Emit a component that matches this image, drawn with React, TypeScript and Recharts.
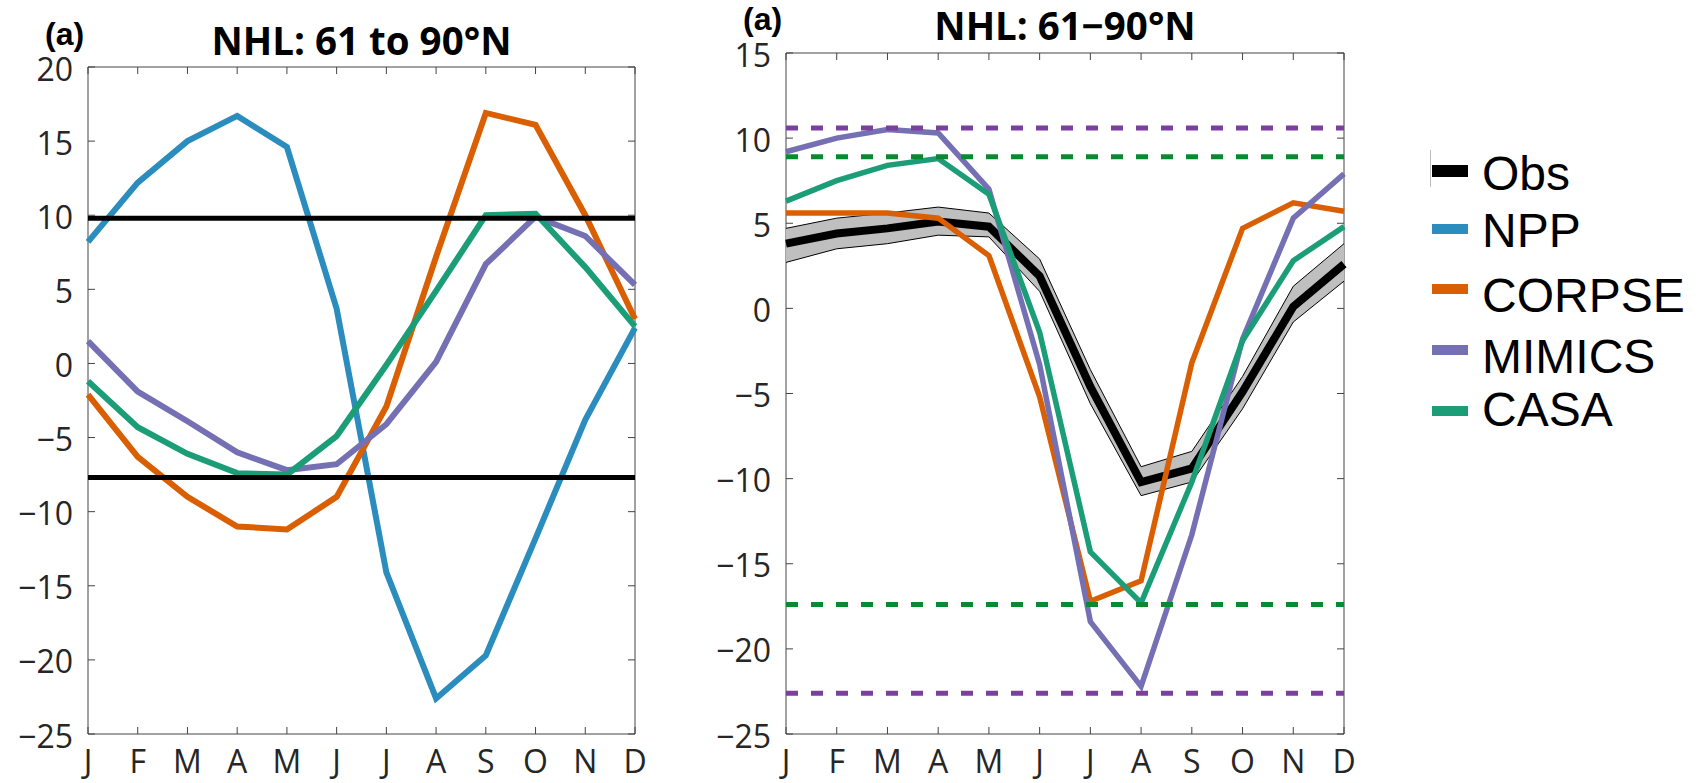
import { ComposedChart, Line, Area, XAxis, YAxis, ReferenceLine, ReferenceArea, Legend } from 'recharts';

const monthLabels = ['J', 'F', 'M', 'A', 'M', 'J', 'J', 'A', 'S', 'O', 'N', 'D'];
const monthNums = [1, 2, 3, 4, 5, 6, 7, 8, 9, 10, 11, 12];

// left panel: NHL 61 to 90N
const nppLeft = [8.2, 12.2, 15.0, 16.7, 14.6, 3.7, -14.1, -22.6, -19.7, -11.8, -3.8, 2.4];
const corpseLeft = [-2.1, -6.3, -9.0, -11.0, -11.2, -9.0, -2.9, 7.2, 16.9, 16.1, 10.0, 3.0];
const mimicsLeft = [1.5, -1.9, -3.9, -6.0, -7.2, -6.8, -4.1, 0.1, 6.7, 9.9, 8.6, 5.3];
const casaLeft = [-1.2, -4.3, -6.1, -7.4, -7.5, -4.9, -0.1, 4.9, 10.0, 10.1, 6.5, 2.5];
const leftLimits = [9.8, -7.7];
const leftTicks = [-25, -20, -15, -10, -5, 0, 5, 10, 15, 20];

// right panel: NHL 61-90N
const obsRight = [3.8, 4.4, 4.7, 5.1, 4.8, 1.9, -4.6, -10.2, -9.4, -4.9, 0.1, 2.6];
const obsLow = [2.7, 3.5, 3.8, 4.3, 4.2, 1.0, -5.6, -11.0, -10.2, -5.9, -0.8, 1.6];
const obsHigh = [4.7, 5.3, 5.6, 5.95, 5.6, 2.9, -3.6, -9.3, -8.4, -4.0, 1.3, 3.8];
const corpseRight = [5.6, 5.6, 5.6, 5.3, 3.1, -5.2, -17.2, -16.0, -3.2, 4.7, 6.2, 5.7];
const mimicsRight = [9.2, 10.0, 10.5, 10.3, 7.0, -3.3, -18.4, -22.2, -13.3, -1.8, 5.3, 7.9];
const casaRight = [6.3, 7.5, 8.4, 8.8, 6.7, -1.4, -14.3, -17.3, -10.2, -1.9, 2.8, 4.8];
const mimicsLimits = [10.6, -22.6];
const casaLimits = [8.9, -17.4];
const rightTicks = [-25, -20, -15, -10, -5, 0, 5, 10, 15];

const legendNames = ['Obs', 'NPP', 'CORPSE', 'MIMICS', 'CASA'];

const C_OBS = '#000000';
const C_NPP = '#2b8cbe';
const C_CORPSE = '#d95f02';
const C_MIMICS = '#7570b3';
const C_CASA = '#1b9e77';
const C_DASH_PURPLE = '#7b3f9d';
const C_DASH_GREEN = '#0a8a2e';
const legendColors = [C_OBS, C_NPP, C_CORPSE, C_MIMICS, C_CASA];

const AXIS = '#444';
const TEXT = '#262626';
const FONT = '"Open Sans", "Noto Sans", sans-serif';
const PANEL_FONT = '"Liberation Sans", Arial, sans-serif';

const leftData = monthNums.map((m, i) => ({
  m,
  npp: nppLeft[i],
  corpse: corpseLeft[i],
  mimics: mimicsLeft[i],
  casa: casaLeft[i],
}));

const rightData = monthNums.map((m, i) => ({
  m,
  obs: obsRight[i],
  band: [obsLow[i], obsHigh[i]],
  corpse: corpseRight[i],
  mimics: mimicsRight[i],
  casa: casaRight[i],
}));

// box sides in chart coords, ticks are drawn inside like matlab
function xTick(top: number, bottom: number) {
  return (p: any) => (
    <g>
      <line x1={p.x} x2={p.x} y1={bottom} y2={bottom - 7} stroke={AXIS} />
      <line x1={p.x} x2={p.x} y1={top} y2={top + 7} stroke={AXIS} />
      <text x={p.x} y={bottom + 39} textAnchor="middle" fontSize={32} fill={TEXT} fontFamily={FONT}>
        {monthLabels[p.payload.value - 1]}
      </text>
    </g>
  );
}

function yTick(left: number, right: number) {
  return (p: any) => (
    <g>
      <line x1={left} x2={left + 7} y1={p.y} y2={p.y} stroke={AXIS} />
      <line x1={right} x2={right - 7} y1={p.y} y2={p.y} stroke={AXIS} />
      <text x={left - 15} y={p.y + 2} dy="0.36em" textAnchor="end" fontSize={32} fill={TEXT} fontFamily={FONT}>
        {p.payload.value < 0 ? '\u2212' + Math.abs(p.payload.value) : p.payload.value}
      </text>
    </g>
  );
}

function LegendBox() {
  const swatchY = [31, 89, 149, 210, 271];
  const textY = [50, 107, 172, 233, 286];
  return (
    <svg width={273} height={310}>
      <line x1={0.5} x2={0.5} y1={10} y2={47} stroke="#bbb" />
      {legendNames.map((name, i) => (
        <g key={name}>
          <rect x={2} y={swatchY[i] - (i === 0 ? 6 : 5)} width={36} height={i === 0 ? 12 : 10} fill={legendColors[i]} />
          <text x={52} y={textY[i]} fontSize={48} fill="#000" fontFamily={PANEL_FONT}>
            {name}
          </text>
        </g>
      ))}
    </svg>
  );
}

export default function App() {
  return (
    <div style={{ position: 'absolute', left: 0, top: 0, width: 1703, height: 783, background: '#fff' }}>
      <div style={{ position: 'absolute', left: 0, top: 0 }}>
        <ComposedChart width={700} height={783} data={leftData} margin={{ top: 67, right: 65, bottom: 9, left: 28 }}>
          <XAxis dataKey="m" type="number" domain={[1, 12]} ticks={monthNums} interval={0} height={40}
            axisLine={false} tickLine={false} tick={xTick(67, 734)} />
          <YAxis type="number" domain={[-25, 20]} ticks={leftTicks} interval={0} width={60}
            axisLine={false} tickLine={false} tick={yTick(88, 635)} />
          <ReferenceArea x1={1} x2={12} y1={-25} y2={20} fill="none" stroke={AXIS} strokeWidth={1} />
          <Line type="linear" dataKey="npp" stroke={C_NPP} strokeWidth={6} dot={false} activeDot={false} isAnimationActive={false} />
          <Line type="linear" dataKey="corpse" stroke={C_CORPSE} strokeWidth={6} dot={false} activeDot={false} isAnimationActive={false} />
          <Line type="linear" dataKey="mimics" stroke={C_MIMICS} strokeWidth={6} dot={false} activeDot={false} isAnimationActive={false} />
          <Line type="linear" dataKey="casa" stroke={C_CASA} strokeWidth={6} dot={false} activeDot={false} isAnimationActive={false} />
          {leftLimits.map((v) => (
            <ReferenceLine key={v} y={v} stroke="#000" strokeWidth={5} />
          ))}
        </ComposedChart>
      </div>
      <div style={{ position: 'absolute', left: 700, top: 0 }}>
        <ComposedChart width={1003} height={783} data={rightData} margin={{ top: 53, right: 359, bottom: 9, left: 26 }}>
          <XAxis dataKey="m" type="number" domain={[1, 12]} ticks={monthNums} interval={0} height={40}
            axisLine={false} tickLine={false} tick={xTick(53, 734)} />
          <YAxis type="number" domain={[-25, 15]} ticks={rightTicks} interval={0} width={60}
            axisLine={false} tickLine={false} tick={yTick(86, 644)} />
          <ReferenceArea x1={1} x2={12} y1={-25} y2={15} fill="none" stroke={AXIS} strokeWidth={1} />
          <Area type="linear" dataKey="band" stroke="#000" strokeWidth={1} fill="#bfbfbf" fillOpacity={1} dot={false} activeDot={false} isAnimationActive={false} />
          <Line type="linear" dataKey="obs" stroke={C_OBS} strokeWidth={8} dot={false} activeDot={false} isAnimationActive={false} />
          <Line type="linear" dataKey="corpse" stroke={C_CORPSE} strokeWidth={5.5} dot={false} activeDot={false} isAnimationActive={false} />
          <Line type="linear" dataKey="mimics" stroke={C_MIMICS} strokeWidth={5.5} dot={false} activeDot={false} isAnimationActive={false} />
          <Line type="linear" dataKey="casa" stroke={C_CASA} strokeWidth={5.5} dot={false} activeDot={false} isAnimationActive={false} />
          {mimicsLimits.map((v) => (
            <ReferenceLine key={'m' + v} y={v} stroke={C_DASH_PURPLE} strokeWidth={5} strokeDasharray="12 13" />
          ))}
          {casaLimits.map((v) => (
            <ReferenceLine key={'c' + v} y={v} stroke={C_DASH_GREEN} strokeWidth={5} strokeDasharray="12 13" />
          ))}
          <Legend layout="horizontal" verticalAlign="middle" align="center" width={273} height={310}
            wrapperStyle={{ left: 730, top: 140 }} content={() => <LegendBox />} />
        </ComposedChart>
      </div>
      <svg width={1703} height={783} style={{ position: 'absolute', left: 0, top: 0, pointerEvents: 'none' }}>
        <g fontWeight="bold" fill="#000">
          <text x={45} y={45} fontSize={32} fontFamily={PANEL_FONT}>(a)</text>
          <text x={361.5} y={55} fontSize={38.5} textAnchor="middle" fontFamily={FONT}>NHL: 61 to 90°N</text>
          <text x={743} y={30} fontSize={32} fontFamily={PANEL_FONT}>(a)</text>
          <text x={1065} y={40} fontSize={38.5} textAnchor="middle" fontFamily={FONT}>NHL: 61−90°N</text>
        </g>
      </svg>
    </div>
  );
}
